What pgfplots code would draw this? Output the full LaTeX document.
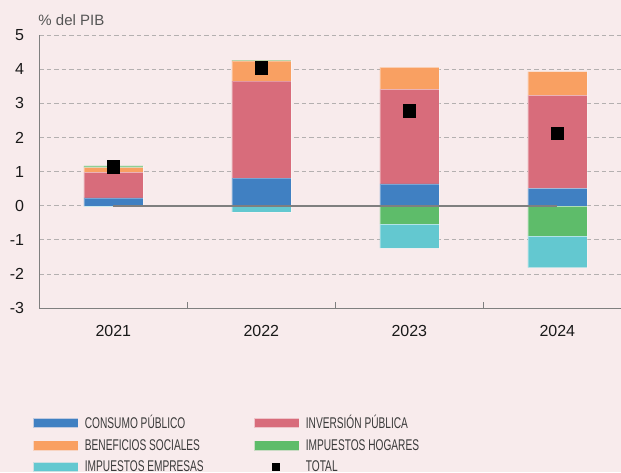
\documentclass[border=0pt]{standalone}
\usepackage{fontspec}
\setmainfont{Liberation Sans}
\newfontfamily\narrowfont[FakeStretch=0.655]{Liberation Sans}
\usepackage{pgfplots}
\pgfplotsset{compat=1.18}
\definecolor{bgc}{HTML}{F8EBEC}
\definecolor{cblue}{HTML}{4080C2}
\definecolor{cred}{HTML}{D86C7B}
\definecolor{corange}{HTML}{F9A062}
\definecolor{cgreen}{HTML}{5EBC6A}
\definecolor{ccyan}{HTML}{63C8D0}
\definecolor{gridc}{HTML}{B4B0B0}
\definecolor{axgray}{HTML}{7F7F7F}
\definecolor{legtext}{HTML}{3A3A3A}
\definecolor{labgray}{HTML}{555555}
\begin{document}
\begin{tikzpicture}
\fill[bgc] (0pt,0pt) rectangle (621pt,-472pt);
\begin{axis}[
  at={(39.3pt,-308.3pt)}, anchor=south west,
  scale only axis, width=581.7pt, height=273.3pt,
  xmin=-0.5, xmax=3.43, ymin=-3, ymax=5,
  ybar stacked, bar width=59pt,
  clip=false,
  axis lines*=left,
  axis line style={draw=axgray, line width=1.2pt},
  xtick={0,1,2,3}, xticklabels={2021,2022,2023,2024},
  minor xtick={0.5,1.5,2.5},
  ytick={-3,-2,...,5},
  major tick length=0pt, minor tick length=6pt,
  tick align=inside,
  tick style={draw=axgray, line width=1pt},
  ymajorgrids,
  grid style={draw=gridc, line width=1pt, dash pattern=on 4.5pt off 3pt},
  /pgf/number format/assume math mode=true,
  ticklabel style={font=\fontsize{16}{18}\selectfont, text=black!90},
  xticklabel style={yshift=-13pt},
  yticklabel style={xshift=-11.7pt},
  legend columns=2,
  legend cell align=left,
  legend style={at={(axis description cs:-0.0103,-0.392)}, anchor=north west,
    draw=none, fill=none, inner sep=0pt, outer sep=0pt,
    font=\narrowfont\fontsize{15.5}{18}\selectfont, text=legtext,
    row sep=9pt,
    nodes={inner sep=0pt},
    /tikz/every odd column/.append style={column sep=7pt},
    /tikz/every even column/.append style={column sep=50.5pt}},
]
\addplot[fill=cblue, draw=white, draw opacity=0.3, line width=0.6pt, legend image code/.code={\fill[cblue] (0pt,-4.35pt) rectangle (44pt,4.35pt);}]
  coordinates {(0,0.23) (1,0.81) (2,0.64) (3,0.51)};
\addlegendentry{CONSUMO PÚBLICO}
\addplot[fill=cred, draw=white, draw opacity=0.3, line width=0.6pt, legend image code/.code={\fill[cred] (0pt,-4.35pt) rectangle (44pt,4.35pt);}]
  coordinates {(0,0.75) (1,2.84) (2,2.77) (3,2.72)};
\addlegendentry{INVERSIÓN PÚBLICA}
\addplot[fill=corange, draw=white, draw opacity=0.3, line width=0.6pt, legend image code/.code={\fill[corange] (0pt,-4.35pt) rectangle (44pt,4.35pt);}]
  coordinates {(0,0.14) (1,0.59) (2,0.64) (3,0.70)};
\addlegendentry{BENEFICIOS SOCIALES}
\addplot[fill=cgreen, draw=white, draw opacity=0.3, line width=0.6pt, legend image code/.code={\fill[cgreen] (0pt,-4.35pt) rectangle (44pt,4.35pt);}]
  coordinates {(0,0.05) (1,0.02) (2,-0.53) (3,-0.88)};
\addlegendentry{IMPUESTOS HOGARES}
\addplot[fill=ccyan, draw=white, draw opacity=0.3, line width=0.6pt, legend image code/.code={\fill[ccyan] (0pt,-4.35pt) rectangle (44pt,4.35pt);}]
  coordinates {(0,-0.02) (1,-0.18) (2,-0.71) (3,-0.93)};
\addlegendentry{IMPUESTOS EMPRESAS}
\addlegendimage{legend image code/.code={\path[draw=none, fill=none] (0pt,-4.35pt) rectangle (44pt,4.35pt); \fill[black] (17.2pt,-3.5pt) rectangle (24.2pt,3.5pt);}}
\addlegendentry{TOTAL}
\node[anchor=base west, inner sep=0pt, font=\fontsize{15}{18}\selectfont, text=labgray, xshift=-1pt, yshift=10pt] at (rel axis cs:0,1) {\% del PIB};
\end{axis}
\begin{axis}[
  at={(39.3pt,-308.3pt)}, anchor=south west,
  scale only axis, width=581.7pt, height=273.3pt,
  xmin=-0.5, xmax=3.43, ymin=-3, ymax=5,
  hide axis, clip=false,
]
\addplot[draw=axgray, line width=2pt] coordinates {(0,0) (3,0)};
\addplot[only marks, mark=square*, mark size=6.3pt, black] coordinates {(0,1.15) (1,4.05) (2,2.79) (3,2.12)};
\end{axis}
\pgfresetboundingbox
\path (0pt,0pt) rectangle (621pt,-472pt);
\end{tikzpicture}
\end{document}
